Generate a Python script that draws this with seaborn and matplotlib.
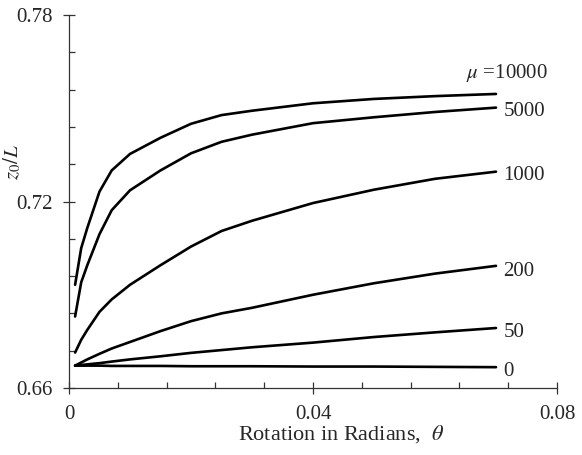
import matplotlib
matplotlib.use("Agg")
import matplotlib.pyplot as plt
from matplotlib.ticker import MultipleLocator, FixedLocator
import seaborn as sns
import pandas as pd

theta = [0.001, 0.002, 0.003, 0.005, 0.007, 0.01, 0.015, 0.02, 0.025, 0.03, 0.04, 0.05, 0.06, 0.07]

mu_labels = ["10000", "5000", "1000", "200", "50", "0"]

z_mu10000 = [0.6932, 0.7050, 0.7115, 0.7232, 0.7300, 0.7353, 0.7405, 0.7450, 0.7478, 0.7492, 0.7516, 0.7530, 0.7539, 0.7546]
z_mu5000 = [0.6830, 0.6940, 0.6995, 0.7095, 0.7172, 0.7236, 0.7300, 0.7355, 0.7392, 0.7415, 0.7452, 0.7471, 0.7488, 0.7502]
z_mu1000 = [0.6714, 0.6755, 0.6787, 0.6845, 0.6885, 0.6932, 0.6995, 0.7055, 0.7105, 0.7138, 0.7195, 0.7238, 0.7273, 0.7296]
z_mu200 = [0.6672, 0.6682, 0.6692, 0.6710, 0.6727, 0.6748, 0.6783, 0.6815, 0.6840, 0.6858, 0.6900, 0.6937, 0.6968, 0.6993]
z_mu50 = [0.6672, 0.6674, 0.6676, 0.6680, 0.6685, 0.6692, 0.6702, 0.6713, 0.6722, 0.6731, 0.6746, 0.6764, 0.6779, 0.6793]
z_mu0 = [0.6672, 0.6672, 0.6672, 0.6672, 0.6671, 0.6671, 0.6671, 0.6670, 0.6670, 0.6670, 0.6669, 0.6669, 0.6668, 0.6667]

series = [z_mu10000, z_mu5000, z_mu1000, z_mu200, z_mu50, z_mu0]

# label positions (data coords)
label_x = 0.0712
label_y = [0.7615, 0.7489, 0.7283, 0.6975, 0.6779, 0.6654]

xticks = [0, 0.04, 0.08]
xtick_labels = ["0", "0.04", "0.08"]
yticks = [0.66, 0.72, 0.78]
ytick_labels = ["0.66", "0.72", "0.78"]

rows = []
for lab, vals in zip(mu_labels, series):
    for t, v in zip(theta, vals):
        rows.append({"theta": t, "z": v, "mu": lab})
df = pd.DataFrame(rows)

sns.set_style("ticks")
plt.rcParams["font.family"] = ["Liberation Serif", "DejaVu Serif"]
plt.rcParams["mathtext.fontset"] = "stix"

fig = plt.figure(figsize=(5.82, 4.55), dpi=100)
ax = fig.add_axes([69 / 582, 1 - 388 / 455, 488 / 582, 373 / 455])

sns.lineplot(data=df, x="theta", y="z", hue="mu", hue_order=mu_labels,
             palette=["black"] * len(mu_labels), legend=False, estimator=None,
             sort=True, linewidth=1.9, ax=ax)

ax.set_xlim(0, 0.08)
ax.set_ylim(0.66, 0.78)
ax.xaxis.set_major_locator(FixedLocator(xticks))
ax.set_xticklabels(xtick_labels)
ax.yaxis.set_major_locator(FixedLocator(yticks))
ax.set_yticklabels(ytick_labels)
ax.xaxis.set_minor_locator(MultipleLocator(0.008))
ax.yaxis.set_minor_locator(MultipleLocator(0.012))

for s in ["top", "right"]:
    ax.spines[s].set_visible(False)
for s in ["left", "bottom"]:
    ax.spines[s].set_color("#333333")
    ax.spines[s].set_linewidth(0.9)

ax.tick_params(axis="both", which="major", direction="inout", length=8, width=0.9,
               color="#333333", labelsize=15)
ax.tick_params(axis="both", which="minor", direction="in", length=4, width=0.9,
               color="#333333")
ax.tick_params(axis="x", which="major", pad=8)
ax.tick_params(axis="y", which="major", pad=8)

for lab, ly in zip(mu_labels, label_y):
    if lab == "10000":
        ax.text(0.0785, ly, r"$\mu$ =10000", ha="right", va="center", fontsize=15)
    else:
        ax.text(label_x, ly, lab, ha="left", va="center", fontsize=15)

ax.set_xlabel(r"Rotation in Radians,  $\theta$", fontsize=16)
ax.xaxis.set_label_coords(0.557, -0.093)
ax.set_ylabel(r"$z_0/L$", fontsize=15)
ax.yaxis.set_label_coords(-0.094, 0.606)

fig.savefig("out.png", dpi=100)
